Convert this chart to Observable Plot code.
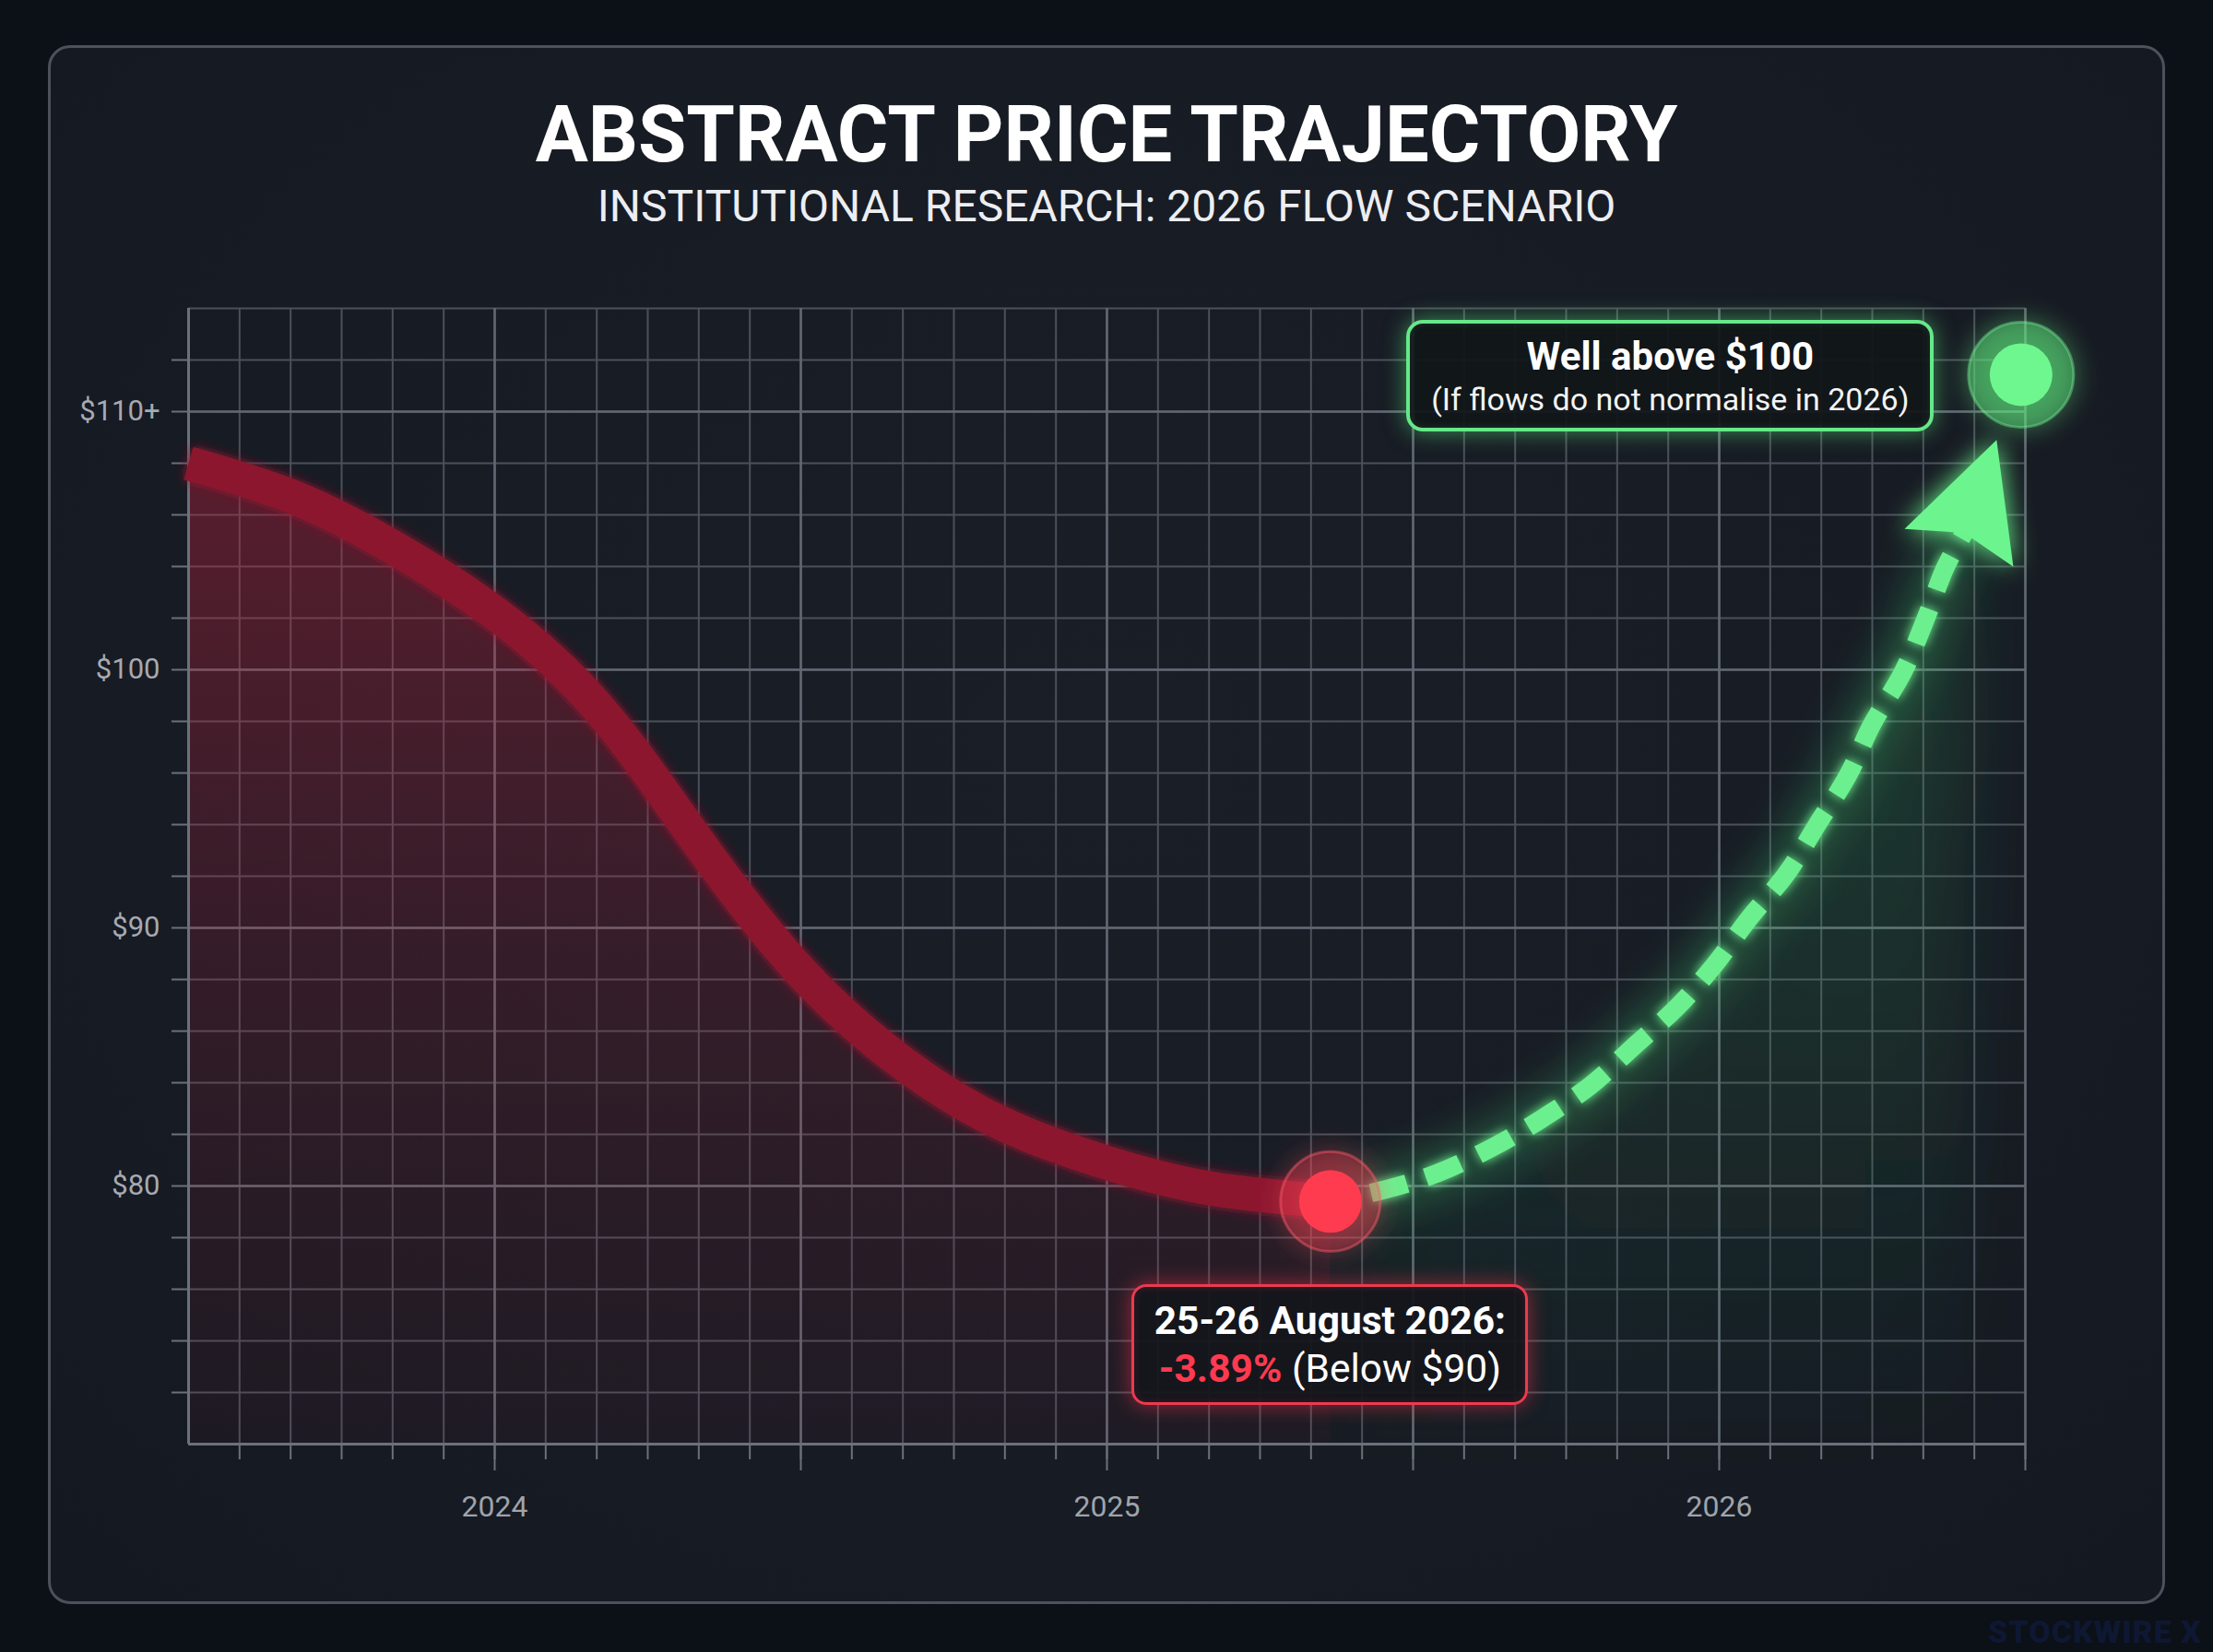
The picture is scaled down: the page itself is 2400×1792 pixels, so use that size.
<!DOCTYPE html>
<html>
<head>
<meta charset="utf-8">
<script src="https://cdn.jsdelivr.net/npm/d3@7"></script>
<script src="https://cdn.jsdelivr.net/npm/@observablehq/plot@0.6"></script>
<style>
html,body{margin:0;padding:0;background:#0c1017;}
#page{position:relative;width:2400px;height:1792px;overflow:hidden;background:#0c1017;font-family:Roboto,"Noto Sans",sans-serif;}
#panel{position:absolute;left:52px;top:49px;width:2290px;height:1685px;border:3px solid #4c515b;border-radius:24px;
  background:radial-gradient(ellipse at 50% 45%, #1a1e27 0%, #171b23 65%, #141820 100%);}
.title{position:absolute;left:0;width:2400px;text-align:center;color:#fff;white-space:nowrap;}
#title{top:103px;font-size:85px;line-height:86px;font-weight:700;}
#subtitle{top:200px;font-size:48px;line-height:48px;font-weight:400;color:#eceef2;}
#chart{position:absolute;left:0;top:260px;}
.box{position:absolute;box-sizing:border-box;text-align:center;white-space:nowrap;color:#fff;}
#redBox{width:430px;height:131px;border:3px solid #ec3a50;border-radius:16px;background:rgba(20,21,28,0.93);
  box-shadow:0 0 22px rgba(255,50,75,0.55), inset 0 0 10px rgba(255,50,75,0.15);padding-top:11px;}
#redBox .l1{font-size:42.5px;line-height:52px;font-weight:700;}
#redBox .l2{font-size:42.5px;line-height:52px;font-weight:400;}
#redBox .neg{color:#ff3a50;font-weight:700;}
#greenBox{width:572px;height:121px;border:4px solid #66e889;border-radius:18px;background:rgba(17,22,25,0.93);
  box-shadow:0 0 24px rgba(90,240,130,0.55), inset 0 0 10px rgba(90,240,130,0.12);padding-top:12px;}
#greenBox .l1{font-size:42px;line-height:48px;font-weight:700;}
#greenBox .l2{font-size:34px;line-height:44px;font-weight:400;color:#f2f4f5;}
#wm{position:absolute;right:12px;top:1750px;font-size:34px;line-height:40px;font-weight:900;color:#0e1833;letter-spacing:1px;}
</style>
</head>
<body>
<div id="page">
  <div id="panel"></div>
  <div class="title" id="title">ABSTRACT PRICE TRAJECTORY</div>
  <div class="title" id="subtitle">INSTITUTIONAL RESEARCH: 2026 FLOW SCENARIO</div>
  <div id="chart"></div>
  <div class="box" id="redBox"><div class="l1">25-26 August 2026:</div><div class="l2"><span class="neg">-3.89%</span> (Below $90)</div></div>
  <div class="box" id="greenBox"><div class="l1">Well above $100</div><div class="l2">(If flows do not normalise in 2026)</div></div>
  <div id="wm">STOCKWIRE X</div>
</div>
<script>
// ---- data ----
const redX = [2023.50, 2023.67, 2023.83, 2024.00, 2024.17, 2024.33, 2024.50, 2024.67, 2024.83, 2025.00, 2025.17, 2025.365];
const redY = [108.0, 106.7, 104.8, 102.2, 98.5, 93.4, 88.3, 84.7, 82.4, 80.9, 79.9, 79.4];
const greenX = [2025.365, 2025.46, 2025.54, 2025.63, 2025.71, 2025.79, 2025.86, 2025.93, 2025.99, 2026.05, 2026.11, 2026.16, 2026.21, 2026.25, 2026.30, 2026.336, 2026.37, 2026.40];
const greenY = [79.4, 79.9, 80.5, 81.5, 82.6, 83.9, 85.4, 86.9, 88.5, 90.4, 92.1, 94.0, 95.9, 97.9, 99.9, 101.9, 104.0, 105.3];
const arrowX = [2026.40, 2026.453];
const arrowY = [105.3, 108.9];
const lowPointX = 2025.365, lowPointY = 79.4;
const highPointX = 2026.493, highPointY = 111.43;
const yearTicks = [2024, 2025, 2026];
const yearLabels = ["2024", "2025", "2026"];
const priceTicks = [80, 90, 100, 110];
const priceLabels = ["$80", "$90", "$100", "$110+"];
const xDomain = [2023.5, 2026.5];
const yDomain = [70, 114];

const monthTicks = d3.range(0, 37).map(i => +(xDomain[0] + i / 12).toFixed(4));
const halfYearTicks = d3.range(0, 7).map(i => xDomain[0] + i / 2);
const priceMinor = d3.range(yDomain[0], yDomain[1] + 1, 2);
const priceTickMarks = priceMinor.filter(v => v > yDomain[0] && v < yDomain[1]);
const monthTickMarks = monthTicks.filter(v => v > xDomain[0]);

const red = redX.map((x, i) => ({x, y: redY[i]}));
const green = greenX.map((x, i) => ({x, y: greenY[i]}));
const lowPoint = [{x: lowPointX, y: lowPointY}];
const highPoint = [{x: highPointX, y: highPointY}];

// ---- layout ----
const W = 2400, H = 1420, ML = 204, MR = 204, MT = 74, MB = 114, TOP = 260;
const pxPerX = (W - ML - MR) / (xDomain[1] - xDomain[0]);
const pxPerY = (H - MT - MB) / (yDomain[1] - yDomain[0]);
const arrowAngle = Math.atan2((arrowX[1] - arrowX[0]) * pxPerX, (arrowY[1] - arrowY[0]) * pxPerY) * 180 / Math.PI;
const arrowLen = Math.hypot((arrowX[1] - arrowX[0]) * pxPerX, (arrowY[1] - arrowY[0]) * pxPerY);

const arrowSymbol = {
  draw(ctx, size) {
    const r = Math.sqrt(size / Math.PI);
    ctx.moveTo(0, -r);
    ctx.lineTo(0.585 * r, 0.16 * r);
    ctx.lineTo(0, 0);
    ctx.lineTo(-0.585 * r, 0.16 * r);
    ctx.closePath();
  }
};

function defsMark() {
  const defs = d3.create("svg:defs");
  const rg = defs.append("linearGradient").attr("id", "redFill").attr("x1", 0).attr("y1", 0).attr("x2", 0).attr("y2", 1);
  rg.append("stop").attr("offset", "0%").attr("stop-color", "#c4213f").attr("stop-opacity", 0.38);
  rg.append("stop").attr("offset", "50%").attr("stop-color", "#b81f3c").attr("stop-opacity", 0.18);
  rg.append("stop").attr("offset", "100%").attr("stop-color", "#a81c38").attr("stop-opacity", 0.05);
  const gg = defs.append("linearGradient").attr("id", "greenFill").attr("x1", 0).attr("y1", 0).attr("x2", 0).attr("y2", 1);
  gg.append("stop").attr("offset", "0%").attr("stop-color", "#3fd872").attr("stop-opacity", 0.2);
  gg.append("stop").attr("offset", "55%").attr("stop-color", "#34c466").attr("stop-opacity", 0.1);
  gg.append("stop").attr("offset", "100%").attr("stop-color", "#2fb35c").attr("stop-opacity", 0.01);
  const mk = (id, sd) => {
    const f = defs.append("filter").attr("id", id).attr("x", "-60%").attr("y", "-60%").attr("width", "220%").attr("height", "220%");
    f.append("feGaussianBlur").attr("in", "SourceGraphic").attr("stdDeviation", sd).attr("result", "b");
    const m = f.append("feMerge");
    m.append("feMergeNode").attr("in", "b");
    m.append("feMergeNode").attr("in", "SourceGraphic");
  };
  mk("glowSoft", 6);
  mk("glowStrong", 14);
  const blur = defs.append("filter").attr("id", "blurBig").attr("x", "-50%").attr("y", "-50%").attr("width", "200%").attr("height", "200%");
  blur.append("feGaussianBlur").attr("stdDeviation", 22);
  const blurA = defs.append("filter").attr("id", "blurArea").attr("x", "-30%").attr("y", "-30%").attr("width", "160%").attr("height", "160%");
  blurA.append("feGaussianBlur").attr("stdDeviation", 40);
  return defs.node();
}

const gridMinor = "#4b505a", gridMajor = "#626873", axisColor = "#6b717c";

const chart = Plot.plot({
  width: W, height: H,
  marginLeft: ML, marginRight: MR, marginTop: MT, marginBottom: MB,
  style: {background: "transparent", fontFamily: "Roboto, 'Noto Sans', sans-serif", overflow: "visible"},
  x: {domain: xDomain, axis: null, label: null},
  y: {domain: yDomain, axis: null, label: null},
  marks: [
    defsMark,
    Plot.gridX(monthTicks, {stroke: gridMinor, strokeOpacity: 1, strokeWidth: 2}),
    Plot.gridY(priceMinor, {stroke: gridMinor, strokeOpacity: 1, strokeWidth: 2}),
    Plot.gridX(halfYearTicks, {stroke: gridMajor, strokeOpacity: 1, strokeWidth: 2.5}),
    Plot.gridY(priceTicks, {stroke: gridMajor, strokeOpacity: 1, strokeWidth: 2.5}),
    // areas
    Plot.areaY(green, {x: "x", y1: yDomain[0], y2: "y", curve: "catmull-rom", fill: "url(#greenFill)", ariaDescription: "green-area"}),
    Plot.areaY(red, {x: "x", y1: yDomain[0], y2: "y", curve: "natural", fill: "url(#redFill)"}),
    // axes
    Plot.ruleX([xDomain[0]], {stroke: axisColor, strokeWidth: 3}),
    Plot.ruleY([yDomain[0]], {stroke: axisColor, strokeWidth: 3}),
    Plot.axisX({ticks: monthTickMarks, tickSize: 17, tickFormat: () => "", stroke: axisColor, strokeWidth: 2, label: null}),
    Plot.axisX({ticks: halfYearTicks.filter(v => v > xDomain[0]), tickSize: 29, tickFormat: () => "", stroke: axisColor, strokeWidth: 2, label: null}),
    Plot.axisX({ticks: yearTicks, tickSize: 0, tickPadding: 56, tickFormat: d => yearLabels[yearTicks.indexOf(d)], fontSize: 32, fill: "#9fa4ac", label: null}),
    Plot.axisY({ticks: priceTickMarks, tickSize: 18, tickFormat: () => "", stroke: axisColor, strokeWidth: 2, label: null}),
    Plot.axisY({ticks: priceTicks, tickSize: 0, tickPadding: 31, tickFormat: d => priceLabels[priceTicks.indexOf(d)], fontSize: 31, fill: "#a6aab2", label: null}),
    // red line
    Plot.line(red, {x: "x", y: "y", curve: "natural", stroke: "#8c172d", strokeWidth: 37, strokeLinecap: "butt", ariaDescription: "red-line"}),
    // green glow + dashed line + arrow
    Plot.line(green, {x: "x", y: "y", curve: "catmull-rom", stroke: "#48e07a", strokeWidth: 50, strokeOpacity: 0.25, ariaDescription: "green-glow"}),
    Plot.line(green, {x: "x", y: "y", curve: "catmull-rom", stroke: "#6cf08f", strokeWidth: 20, strokeDasharray: "40 22", strokeDashoffset: 17, strokeLinecap: "butt", ariaDescription: "green-line"}),
    Plot.dot([{x: arrowX[0], y: arrowY[0]}], {x: "x", y: "y", symbol: arrowSymbol, r: arrowLen, rotate: arrowAngle, fill: "#6cf58e", stroke: "none", ariaDescription: "arrow"}),
    // points
    Plot.dot(lowPoint, {x: "x", y: "y", r: 54, fill: "#ff3b50", fillOpacity: 0.28, stroke: "#ff5a6a", strokeOpacity: 0.45, strokeWidth: 3, ariaDescription: "red-halo"}),
    Plot.dot(lowPoint, {x: "x", y: "y", r: 34, fill: "#ff3b4f", ariaDescription: "red-core"}),
    Plot.dot(highPoint, {x: "x", y: "y", r: 57, fill: "#5ef080", fillOpacity: 0.4, stroke: "#7af59a", strokeOpacity: 0.4, strokeWidth: 3, ariaDescription: "green-halo"}),
    Plot.dot(highPoint, {x: "x", y: "y", r: 34, fill: "#6ef78f", ariaDescription: "green-core"})
  ]
});

document.getElementById("chart").appendChild(chart);

const svg = d3.select(chart);
const setF = (desc, f) => svg.selectAll(`g[aria-description="${desc}"]`).attr("filter", f);
setF("green-glow", "url(#blurBig)");
setF("green-area", "url(#blurArea)");
setF("red-line", "url(#glowSoft)");
setF("green-line", "url(#glowSoft)");
setF("arrow", "url(#glowStrong)");
setF("red-halo", "url(#glowStrong)");
setF("green-halo", "url(#glowStrong)");

// ---- annotation positions via the plot's scales ----
const sxs = chart.scale ? chart.scale("x") : null;
const sys = chart.scale ? chart.scale("y") : null;
const px = v => (sxs && sxs.apply) ? sxs.apply(v) : ML + (v - xDomain[0]) * pxPerX;
const py = v => (sys && sys.apply) ? sys.apply(v) : MT + (yDomain[1] - v) * pxPerY;

const rb = document.getElementById("redBox");
rb.style.left = (px(lowPointX) - 215) + "px";
rb.style.top = (TOP + py(lowPointY) + 90) + "px";
const gb = document.getElementById("greenBox");
gb.style.left = (px(highPointX) - 94 - 572) + "px";
gb.style.top = (TOP + py(highPointY) - 59) + "px";
</script>
</body>
</html>
